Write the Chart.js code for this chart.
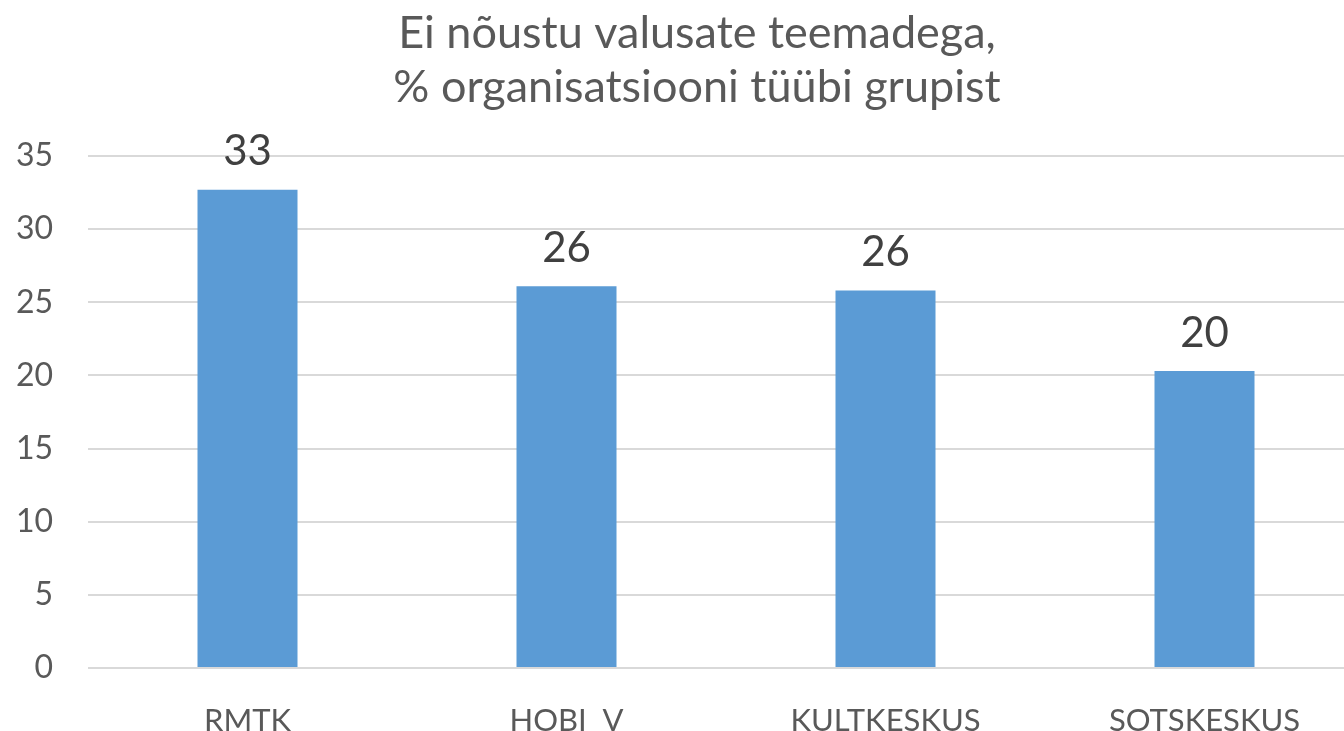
<!DOCTYPE html>
<html>
<head>
<meta charset="utf-8">
<script src="https://cdn.jsdelivr.net/npm/chart.js@4"></script>
<style>
html,body{margin:0;padding:0;background:#fff;overflow:hidden;width:1344px;height:731px;}
canvas{display:block;}
</style>
</head>
<body>
<canvas id="c" width="1394" height="731"></canvas>
<script>
const categories = ["RMTK", "HOBI  V", "KULTKESKUS", "SOTSKESKUS"];
const values = [32.7, 26.1, 25.8, 20.3];
const yTicks = [0, 5, 10, 15, 20, 25, 30, 35];
const titleLines = ["Ei nõustu valusate teemadega,", "% organisatsiooni tüübi grupist"];

const FONT = "Lato, 'Open Sans', sans-serif";

const valueLabels = {
  id: 'valueLabels',
  afterDatasetsDraw(chart) {
    const ctx = chart.ctx;
    const meta = chart.getDatasetMeta(0);
    ctx.save();
    ctx.font = "42px " + FONT;
    ctx.fillStyle = "#404040";
    ctx.textAlign = "center";
    ctx.textBaseline = "middle";
    meta.data.forEach((bar, i) => {
      ctx.fillText(String(Math.round(values[i])), bar.x, bar.y - 38);
    });
    ctx.restore();
  }
};

const titlePlugin = {
  id: 'twoLineTitle',
  afterDraw(chart) {
    const ctx = chart.ctx;
    ctx.save();
    ctx.font = "45px " + FONT;
    ctx.fillStyle = "#595959";
    ctx.textAlign = "center";
    ctx.textBaseline = "alphabetic";
    titleLines.forEach((line, i) => {
      ctx.fillText(line, chart.width / 2, 48 + i * 54);
    });
    ctx.restore();
  }
};

new Chart(document.getElementById('c'), {
  type: 'bar',
  data: {
    labels: categories,
    datasets: [{
      data: values,
      backgroundColor: '#5b9bd5',
      borderWidth: 0,
      barPercentage: 0.627,
      categoryPercentage: 0.5
    }]
  },
  options: {
    responsive: false,
    animation: false,
    layout: { padding: { left: 0, right: 30, top: 156, bottom: 0 } },
    plugins: {
      legend: { display: false },
      tooltip: { enabled: false },
      title: { display: false }
    },
    scales: {
      x: {
        grid: { display: false, drawTicks: false },
        border: { display: false },
        ticks: { color: '#595959', font: { family: FONT, size: 31 }, padding: 34 },
        afterFit(scale) { scale.height = 63; }
      },
      y: {
        min: 0, max: 35,
        afterBuildTicks(scale) { scale.ticks = yTicks.map(v => ({ value: v })); },
        grid: { color: '#d9d9d9', lineWidth: 2, drawTicks: false },
        border: { display: false },
        ticks: { color: '#595959', font: { family: FONT, size: 32 }, padding: 35 },
        afterFit(scale) { scale.width = 88; }
      }
    }
  },
  plugins: [valueLabels, titlePlugin]
});
</script>
</body>
</html>
